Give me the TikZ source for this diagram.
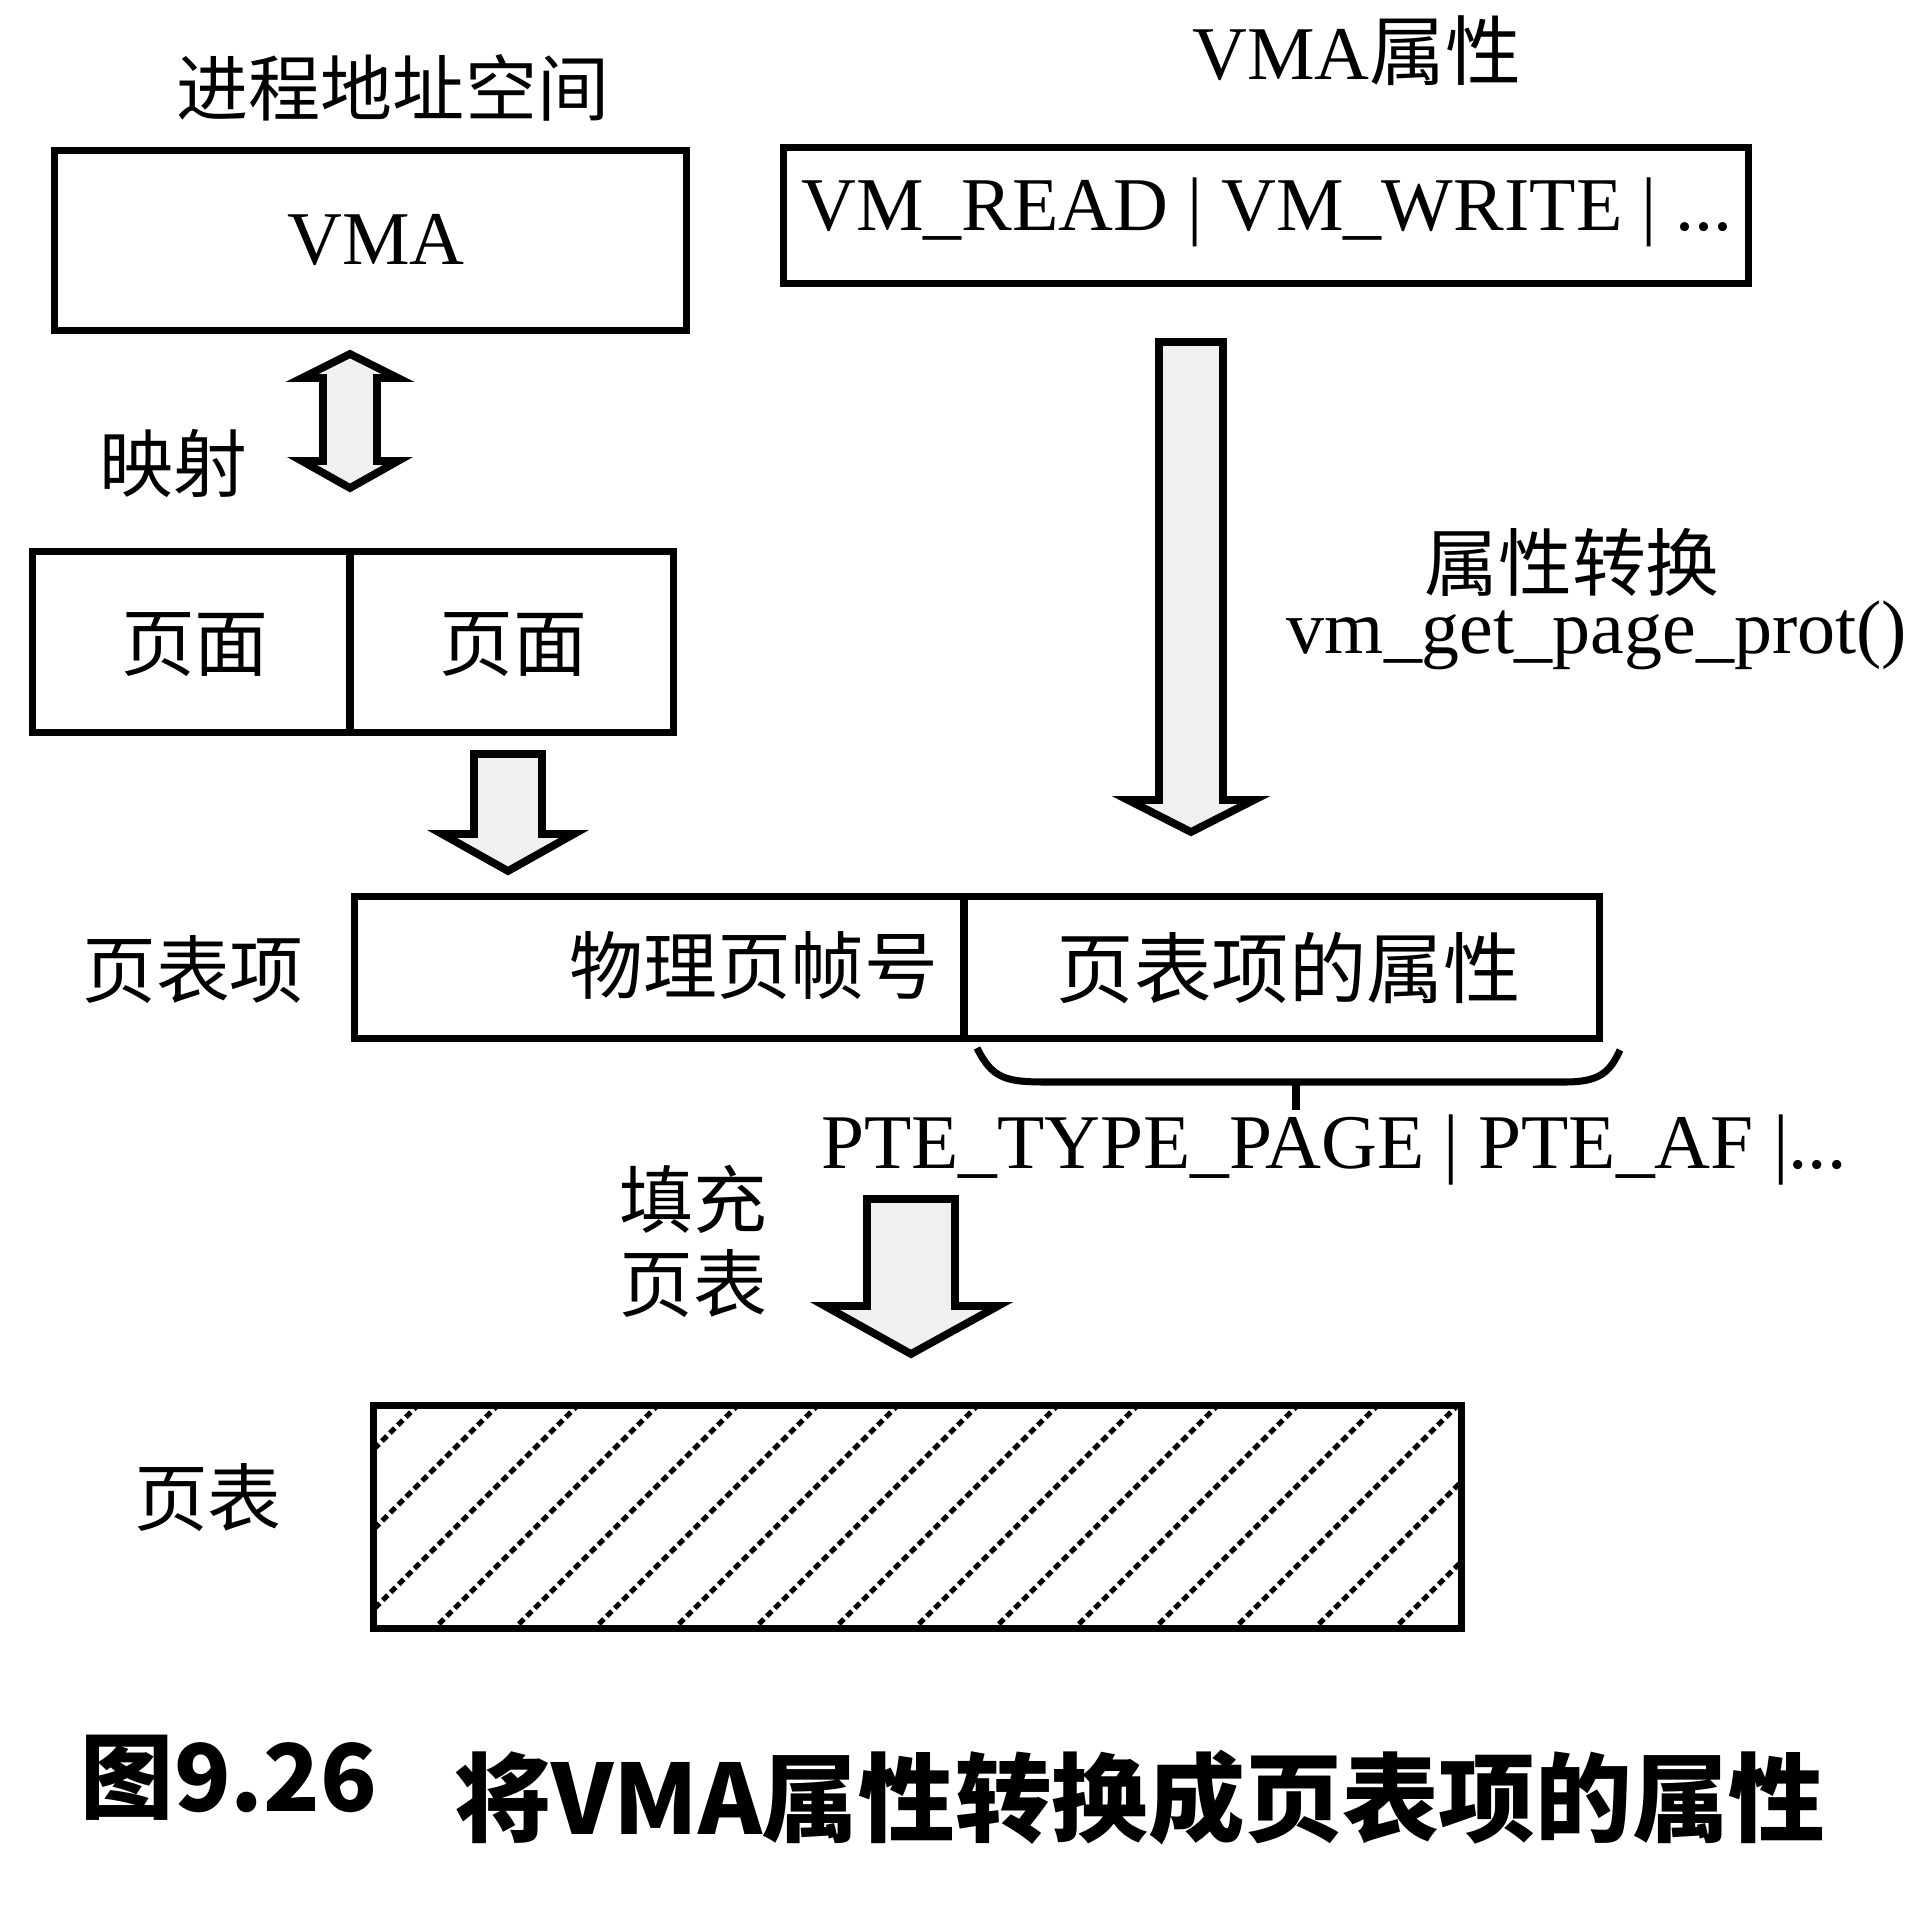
\documentclass[tikz,border=0pt]{standalone}
\usepackage{fontspec}
\setmainfont{Liberation Serif}
\newfontfamily\cjk{Noto Sans CJK SC}
\begin{document}
\begin{tikzpicture}[x=0.01cm,y=-0.01cm,
  box/.style={draw, line width=2pt, inner sep=0pt},
  blk/.style={draw, line width=2.2pt, fill=gray!12, line join=miter},
  lbl/.style={font=\fontsize{21.6}{24}\selectfont, inner sep=0pt},
  cl/.style={font=\cjk\fontsize{21}{24}\selectfont, inner sep=0pt},
  captxt/.style={font=\cjk\bfseries\fontsize{26.5}{30}\selectfont, inner sep=0pt},
  hatch/.style={line width=1.5pt, dash pattern=on 2pt off 1.2pt}]
\useasboundingbox (0,0) rectangle (1914,1906);
% titles
\node[cl, font=\cjk\fontsize{20.5}{24}\selectfont] (t1) at (393,88) {进程地址空间};
\node[lbl] (t2) at (1357,51) {VMA{\cjk 属性}};
% boxes
\node[box, minimum width=6.31cm, minimum height=1.79cm] (vma) at (370.5,240.5) {};
\node[lbl] (vmat) at (376,240) {VMA};
\node[box, minimum width=9.64cm, minimum height=1.36cm] (flags) at (1266,215.5) {};
\node[lbl] (flagst) at (1267,212) {VM\_READ | VM\_WRITE | ...};
\node[box, minimum width=3.17cm, minimum height=1.80cm] (pg1) at (191.5,642) {};
\node[box, minimum width=3.23cm, minimum height=1.80cm] (pg2) at (511.5,642) {};
\node[cl] (pg1t) at (195,645) {页面};
\node[cl] (pg2t) at (513,645) {页面};
\node[cl] (map) at (173,464) {映射};
% double arrow
\draw[blk] (350,354) -- (398,378) -- (377,378) -- (377,461) -- (398,461) -- (350,488)
  -- (302,461) -- (323,461) -- (323,378) -- (302,378) -- cycle;
% arrow pages -> pte
\draw[blk] (474,754) -- (542,754) -- (542,834) -- (574,834) -- (508,871) -- (442,834) -- (474,834) -- cycle;
% big arrow
\draw[blk] (1159,342) -- (1223,342) -- (1223,800) -- (1254,800) -- (1191,832) -- (1128,800) -- (1159,800) -- cycle;
\node[cl] (conv) at (1572,562) {属性转换};
\node[lbl] (fn) at (1597,635) {vm\_get\_page\_prot()};
% PTE
\node[cl] (ptel) at (193,970) {页表项};
\node[box, minimum width=6.09cm, minimum height=1.41cm] (pfn) at (659.5,967.5) {};
\node[box, minimum width=6.35cm, minimum height=1.41cm] (attr) at (1281.5,967.5) {};
\node[cl] (pfnt) at (754,966) {物理页帧号};
\node[cl, font=\cjk\fontsize{22}{24}\selectfont] (attrt) at (1289,968) {页表项的属性};
% brace
\coordinate (bl) at (977,1048);
\coordinate (br) at (1620,1050);
\coordinate (bm) at (1296,1082);
\coordinate (bt) at (1296,1110);
\draw[line width=2pt] (bl) .. controls (992,1078) and (1005,1082) .. (1045,1082) -- (1565,1082)
  .. controls (1600,1082) and (1610,1072) .. (br);
\draw[line width=2pt] (bm) -- (bt);
\node[lbl, font=\fontsize{22}{24}\selectfont] (pte) at (1334,1150) {PTE\_TYPE\_PAGE | PTE\_AF |...};
% fill arrow
\node[cl] (f1) at (693,1199) {填充};
\node[cl] (f2) at (693,1284) {页表};
\draw[blk] (867,1199) -- (955,1199) -- (955,1306) -- (998,1306) -- (911,1354) -- (825,1306) -- (867,1306) -- cycle;
% page table
\node[cl] (tbll) at (208,1498) {页表};
\begin{scope}
\clip (374,1406) rectangle (1461,1628);
\foreach \k in {-4,...,14} {
  \draw[hatch] ({423+80*\k},1640) -- ({423+80*\k+234},1406);
}
\end{scope}
\node[box, minimum width=10.87cm, minimum height=2.22cm] (tbl) at (917.5,1517) {};
% caption
\node[captxt] (c1) at (229,1778) {图9.26};
\node[captxt, font=\cjk\bfseries\fontsize{27.5}{30}\selectfont] (c2) at (1140,1798) {将VMA属性转换成页表项的属性};
\end{tikzpicture}
\end{document}
